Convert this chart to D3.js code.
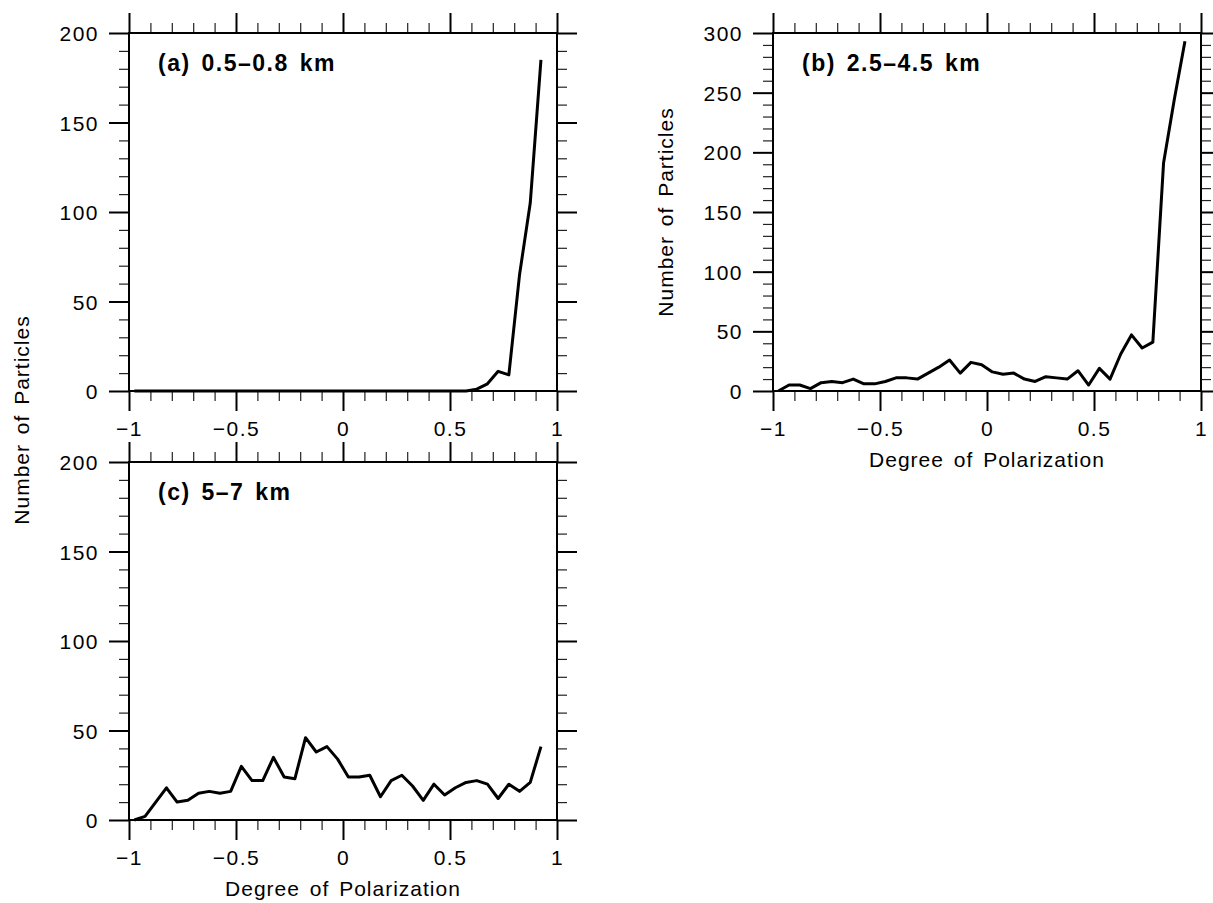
<!DOCTYPE html>
<html>
<head>
<meta charset="utf-8">
<script src="https://cdn.jsdelivr.net/npm/d3@7"></script>
<style>
  body { margin: 0; background: #fff; }
  svg { font-family: "Liberation Sans", Arial, Helvetica, sans-serif; }
</style>
</head>
<body>
<div id="chart"></div>
<script>
"use strict";
(function() {

const WIDTH = 1213
const HEIGHT = 903

// panel box size (all three share it)
const PW = 428
const PH = 358

// bin centres of the degree of polarization
const dop = [-0.975, -0.925, -0.875, -0.825, -0.775, -0.725, -0.675, -0.625, -0.575, -0.525,
             -0.475, -0.425, -0.375, -0.325, -0.275, -0.225, -0.175, -0.125, -0.075, -0.025,
              0.025,  0.075,  0.125,  0.175,  0.225,  0.275,  0.325,  0.375,  0.425,  0.475,
              0.525,  0.575,  0.625,  0.675,  0.725,  0.775,  0.825,  0.875,  0.925]

// (a) 0.5-0.8 km
const countsA = [0, 0, 0, 0, 0, 0, 0, 0, 0, 0,
                 0, 0, 0, 0, 0, 0, 0, 0, 0, 0,
                 0, 0, 0, 0, 0, 0, 0, 0, 0, 0,
                 0, 0, 1, 4, 11, 9, 65, 105, 185]

// (b) 2.5-4.5 km
const countsB = [0, 5, 5, 2, 7, 8, 7, 10, 6, 6,
                 8, 11, 11, 10, 15, 20, 26, 15, 24, 22,
                 16, 14, 15, 10, 8, 12, 11, 10, 17, 5,
                 19, 10, 31, 47, 36, 41, 191, 244, 293]

// (c) 5-7 km
const countsC = [0, 2, 10, 18, 10, 11, 15, 16, 15, 16,
                 30, 22, 22, 35, 24, 23, 46, 38, 41, 34,
                 24, 24, 25, 13, 22, 25, 19, 11, 20, 14,
                 18, 21, 22, 20, 12, 20, 16, 21, 41]

const xMajor = [-1, -0.5, 0, 0.5, 1]
const xMinor = [-0.9, -0.8, -0.7, -0.6, -0.4, -0.3, -0.2, -0.1,
                 0.1, 0.2, 0.3, 0.4, 0.6, 0.7, 0.8, 0.9]
const yMajor200 = [0, 50, 100, 150, 200]
const yMajor300 = [0, 50, 100, 150, 200, 250, 300]

const titles = ["(a) 0.5\u20130.8 km", "(b) 2.5\u20134.5 km", "(c) 5\u20137 km"]
const xTitle = "Degree of Polarization"
const yTitle = "Number of Particles"

const panels = [
    { left: 129, top: 33,  ymax: 200, major: yMajor200, counts: countsA, title: titles[0], xlab: false },
    { left: 773, top: 33,  ymax: 300, major: yMajor300, counts: countsB, title: titles[1], xlab: true, ylab: true },
    { left: 129, top: 462, ymax: 200, major: yMajor200, counts: countsC, title: titles[2], xlab: true }
]

const svg = d3.select("#chart").append("svg")
    .attr("width", WIDTH)
    .attr("height", HEIGHT)

function minorY(ymax) {
    // every 10 units, skipping the majors
    let out = []
    for (let v = 10; v < ymax; v += 10) if (v % 50 !== 0) out.push(v)
    return out
}

function styleAxis(g, major) {
    g.select(".domain").remove()
    g.attr("font-family", null).attr("font-size", null)
    g.selectAll("line")
        .attr("stroke", major ? "#000" : "#222")
        .attr("stroke-width", major ? 2 : 1.2)
}

function drawPanel(p) {
    const x = d3.scaleLinear().domain([-1, 1]).range([p.left, p.left + PW])
    const y = d3.scaleLinear().domain([0, p.ymax]).range([p.top + PH, p.top])
    const g = svg.append("g")
    const ymin = minorY(p.ymax)

    // bottom
    g.append("g").attr("transform", `translate(0,${p.top + PH})`)
        .call(d3.axisBottom(x).tickValues(xMinor).tickSize(10).tickFormat(""))
        .call(a => styleAxis(a, false))
    const xb = g.append("g").attr("transform", `translate(0,${p.top + PH})`)
        .call(d3.axisBottom(x).tickValues(xMajor).tickSize(20).tickSizeOuter(0).tickFormat(d3.format("~g")))
        .call(a => styleAxis(a, true))
    xb.selectAll("text")
        .attr("y", 45).attr("dy", null)
        .style("font-size", "21px").style("letter-spacing", "1.5px").style("fill", "#000")

    // top
    g.append("g").attr("transform", `translate(0,${p.top})`)
        .call(d3.axisTop(x).tickValues(xMinor).tickSize(10).tickFormat(""))
        .call(a => styleAxis(a, false))
    g.append("g").attr("transform", `translate(0,${p.top})`)
        .call(d3.axisTop(x).tickValues(xMajor).tickSize(20).tickFormat(""))
        .call(a => styleAxis(a, true))

    // left
    g.append("g").attr("transform", `translate(${p.left},0)`)
        .call(d3.axisLeft(y).tickValues(ymin).tickSize(10).tickFormat(""))
        .call(a => styleAxis(a, false))
    const yl = g.append("g").attr("transform", `translate(${p.left},0)`)
        .call(d3.axisLeft(y).tickValues(p.major).tickSize(20).tickFormat(d3.format("d")))
        .call(a => styleAxis(a, true))
    yl.selectAll("text")
        .attr("x", -30).attr("dy", "0.36em")
        .style("font-size", "21px").style("letter-spacing", "1.5px").style("fill", "#000")

    // right
    g.append("g").attr("transform", `translate(${p.left + PW},0)`)
        .call(d3.axisRight(y).tickValues(ymin).tickSize(10).tickFormat(""))
        .call(a => styleAxis(a, false))
    g.append("g").attr("transform", `translate(${p.left + PW},0)`)
        .call(d3.axisRight(y).tickValues(p.major).tickSize(20).tickFormat(""))
        .call(a => styleAxis(a, true))

    // box
    g.append("rect")
        .attr("x", p.left).attr("y", p.top)
        .attr("width", PW).attr("height", PH)
        .attr("fill", "none").attr("stroke", "#000").attr("stroke-width", 2)

    const line = d3.line()
        .x(d => x(d[0]))
        .y(d => y(d[1]))

    g.append("path")
        .attr("d", line(d3.zip(dop, p.counts)))
        .attr("fill", "none")
        .attr("stroke", "#000")
        .attr("stroke-width", 3)
        .attr("stroke-linejoin", "round")

    g.append("text")
        .attr("x", p.left + 29).attr("y", p.top + 38)
        .style("font-size", "23px").style("font-weight", "bold")
        .style("letter-spacing", "1.5px").style("word-spacing", "3px")
        .text(p.title)

    if (p.xlab) {
        g.append("text")
            .attr("x", p.left + PW / 2).attr("y", p.top + PH + 76)
            .attr("text-anchor", "middle")
            .style("font-size", "21px").style("letter-spacing", "1px").style("word-spacing", "3px")
            .text(xTitle)
    }
    if (p.ylab) {
        g.append("text")
            .attr("transform", `translate(${p.left - 100},${p.top + PH / 2}) rotate(-90)`)
            .attr("text-anchor", "middle")
            .style("font-size", "21px").style("letter-spacing", "1px").style("word-spacing", "3px")
            .text(yTitle)
    }
}

panels.forEach(drawPanel)

// shared y title for (a) and (c)
svg.append("text")
    .attr("transform", "translate(29,420) rotate(-90)")
    .attr("text-anchor", "middle")
    .style("font-size", "21px").style("letter-spacing", "1px").style("word-spacing", "3px")
    .text(yTitle)

})();
</script>
</body>
</html>
